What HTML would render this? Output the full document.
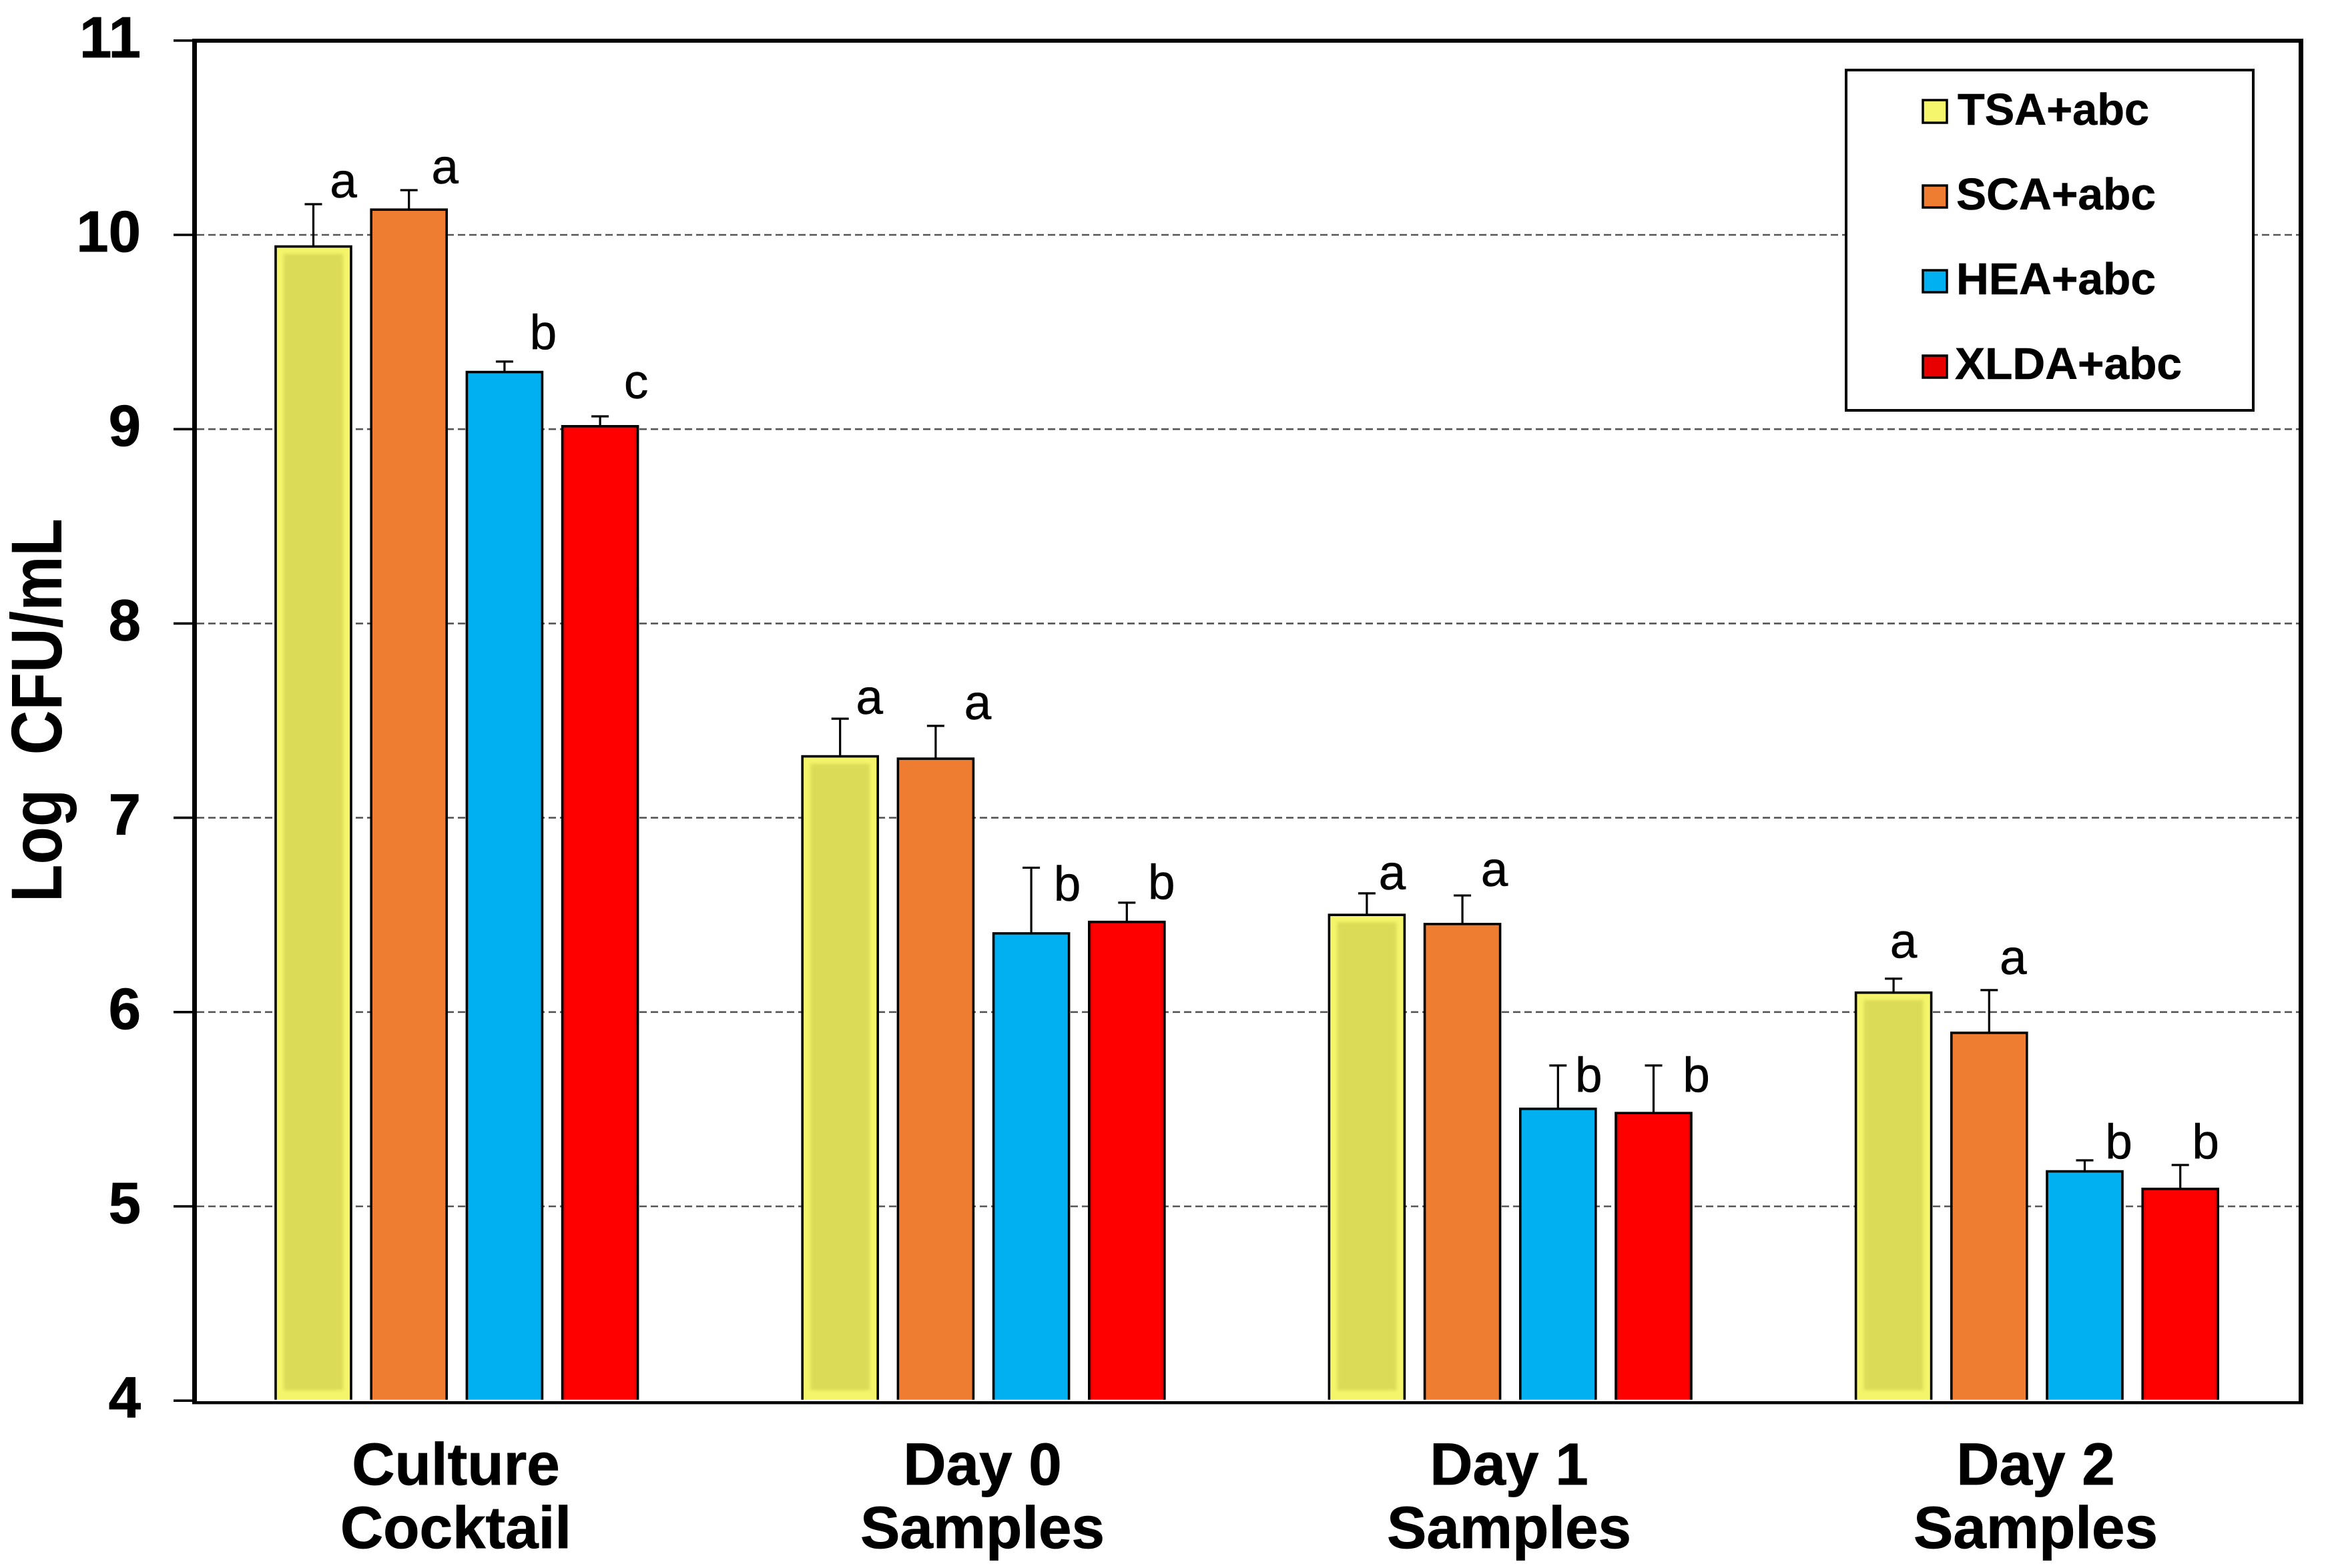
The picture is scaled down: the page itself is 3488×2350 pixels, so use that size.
<!DOCTYPE html>
<html lang="en">
<head>
<meta charset="utf-8">
<title>Log CFU/mL by sample and medium</title>
<style>
  html, body { margin: 0; padding: 0; background: #fff; }
  svg { display: block; font-family: "Liberation Sans", sans-serif; }
  .tick-label { font-size: 87px; font-weight: 700; text-anchor: end; fill: #000; stroke: #000; stroke-width: 0.8px; }
  .cat-label { font-size: 89px; font-weight: 700; text-anchor: middle; fill: #000; stroke: #000; stroke-width: 0.8px; }
  .sig { font-size: 73px; text-anchor: middle; fill: #000; stroke: #000; stroke-width: 0.5px; }
  .legend-text { font-size: 67px; font-weight: 700; fill: #000; stroke: #000; stroke-width: 0.6px; }
</style>
</head>
<body>
<svg id="chart" xmlns="http://www.w3.org/2000/svg" width="3488" height="2350" viewBox="0 0 3488 2350">
  <defs>
    <linearGradient id="red-fill" x1="0" x2="1" y1="0" y2="0">
      <stop offset="0" stop-color="#c40000"/>
      <stop offset="0.05" stop-color="#ff0000"/>
      <stop offset="0.95" stop-color="#ff0000"/>
      <stop offset="1" stop-color="#c40000"/>
    </linearGradient>
    <filter id="soft" x="-10%" y="-10%" width="120%" height="120%">
      <feGaussianBlur stdDeviation="2.5"/>
    </filter>
  </defs>
  <rect x="0" y="0" width="3488" height="2350" fill="#fff"/>
  <g id="grid"></g>
  <g id="bars"></g>
  <g id="axes"></g>
  <text transform="translate(92,1352) rotate(-90)" font-size="108" font-weight="700" fill="#000" textLength="575" lengthAdjust="spacingAndGlyphs" xml:space="preserve">Log  CFU/mL</text>

  <g id="letters">
    <text class="sig" data-g="0" data-s="0" dx="45" dy="-10">a</text>
    <text class="sig" data-g="0" data-s="1" dx="54" dy="-10">a</text>
    <text class="sig" data-g="0" data-s="2" dx="58" dy="-19">b</text>
    <text class="sig" data-g="0" data-s="3" dx="54" dy="-27">c</text>
    <text class="sig" data-g="1" data-s="0" dx="44" dy="-7">a</text>
    <text class="sig" data-g="1" data-s="1" dx="63" dy="-10">a</text>
    <text class="sig" data-g="1" data-s="2" dx="54" dy="49">b</text>
    <text class="sig" data-g="1" data-s="3" dx="52" dy="-6">b</text>
    <text class="sig" data-g="2" data-s="0" dx="38" dy="-6">a</text>
    <text class="sig" data-g="2" data-s="1" dx="48" dy="-14">a</text>
    <text class="sig" data-g="2" data-s="2" dx="46" dy="39">b</text>
    <text class="sig" data-g="2" data-s="3" dx="64" dy="39">b</text>
    <text class="sig" data-g="3" data-s="0" dx="15" dy="-31">a</text>
    <text class="sig" data-g="3" data-s="1" dx="36" dy="-24">a</text>
    <text class="sig" data-g="3" data-s="2" dx="51" dy="-3">b</text>
    <text class="sig" data-g="3" data-s="3" dx="38" dy="-10">b</text>
  </g>

  <g>
    <rect x="2766" y="105" width="610" height="510" fill="#fff" stroke="#000" stroke-width="4"/>
    <g>
      <rect x="2881" y="150" width="36" height="34" fill="#f6f66c" stroke="#000" stroke-width="3.5"/>
      <text class="legend-text" x="2933" y="187" textLength="287" lengthAdjust="spacingAndGlyphs">TSA+abc</text>
    </g>
    <g>
      <rect x="2881" y="278" width="36" height="33" fill="#ee7d31" stroke="#000" stroke-width="3.5"/>
      <text class="legend-text" x="2931" y="314" textLength="299" lengthAdjust="spacingAndGlyphs">SCA+abc</text>
    </g>
    <g>
      <rect x="2881" y="405" width="36" height="33" fill="#00b0f0" stroke="#000" stroke-width="3.5"/>
      <text class="legend-text" x="2931" y="441" textLength="299" lengthAdjust="spacingAndGlyphs">HEA+abc</text>
    </g>
    <g>
      <rect x="2881" y="533" width="36" height="33" fill="#e80000" stroke="#000" stroke-width="3.5"/>
      <text class="legend-text" x="2929" y="568" textLength="340" lengthAdjust="spacingAndGlyphs">XLDA+abc</text>
    </g>
  </g>
</svg>
<script>
const categoryLine1 = ["Culture", "Day 0", "Day 1", "Day 2"];
const categoryLine2 = ["Cocktail", "Samples", "Samples", "Samples"];
const seriesNames = ["tsa", "sca", "hea", "xlda"];
const yTicks = [4, 5, 6, 7, 8, 9, 10, 11];
const gridValues = [5, 6, 7, 8, 9, 10];

const tsaValues = [9.94, 7.316, 6.50, 6.10];
const scaValues = [10.13, 7.304, 6.453, 5.893];
const heaValues = [9.294, 6.405, 5.502, 5.18];
const xldaValues = [9.015, 6.464, 5.48, 5.09];

const tsaUpper = [10.158, 7.51, 6.611, 6.172];
const scaUpper = [10.23, 7.473, 6.60, 6.113];
const heaUpper = [9.348, 6.743, 5.725, 5.237];
const xldaUpper = [9.066, 6.563, 5.725, 5.213];

const NS = "http://www.w3.org/2000/svg";
const seriesValues = [tsaValues, scaValues, heaValues, xldaValues];
const seriesUpper = [tsaUpper, scaUpper, heaUpper, xldaUpper];
const seriesFill = ["#f5f56b", "#ee7d31", "#00b0f0", "url(#red-fill)"];

function yScale(v) { return 60.8 + 291.2 * (11 - v); }
function barCenter(g, s) { return 469.5 + 789.2 * g + 143.2 * s; }
function groupCenter(g) { return 684 + 789 * g; }

function make(tag, attrs, parent) {
  const n = document.createElementNS(NS, tag);
  for (const k in attrs) n.setAttribute(k, attrs[k]);
  parent.appendChild(n);
  return n;
}

const gridG = document.getElementById("grid");
gridValues.forEach(function (v) {
  const line = make("line", { x1: 295, x2: 3444, y1: yScale(v), y2: yScale(v), stroke: "#555", "stroke-width": 2.6, "stroke-dasharray": "11 6" }, gridG);
  
  
});

const barsG = document.getElementById("bars");
const barWidth = 113;
const barBase = yScale(4) - 1.5;
seriesValues.forEach(function (values, s) {
  values.forEach(function (v, g) {
    const cx = barCenter(g, s);
    const x0 = cx - barWidth / 2;
    const x1 = cx + barWidth / 2;
    const top = yScale(v);
    const upper = yScale(seriesUpper[s][g]);

    const whisker = make("path", { d: "M" + cx + " " + top + "V" + upper + "M" + (cx - 13) + " " + upper + "H" + (cx + 13), fill: "none", stroke: "#000", "stroke-width": 3.2 }, barsG);
    
    

    const bar = make("path", { d: "M" + x0 + " " + barBase + "V" + top + "H" + x1 + "V" + barBase, fill: seriesFill[s], stroke: "#000", "stroke-width": 3.6 }, barsG);
    
    

    if (s === 0) {
      const inner = make("rect", { x: x0 + 12, y: top + 11, width: barWidth - 24, height: barBase - top - 25, fill: "#dcdb58", filter: "url(#soft)" }, barsG);
      
      
    }
  });
});

const axesG = document.getElementById("axes");
const frames = [
  { d: "M288 61H3451", w: 6, n: "axis-top" },
  { d: "M291.5 58V2104", w: 7, n: "axis-left" },
  { d: "M3447.5 58V2104", w: 7, n: "axis-right" },
  { d: "M288 2102.2H3451", w: 4.5, n: "axis-bottom" }
];
frames.forEach(function (f) {
  const p = make("path", { d: f.d, fill: "none", stroke: "#000", "stroke-width": f.w }, axesG);
  
  
});

yTicks.forEach(function (v) {
  const t = make("line", { x1: 260, x2: 290, y1: yScale(v), y2: yScale(v), stroke: "#000", "stroke-width": 3.6 }, axesG);
  
  
  const lab = make("text", { x: 211, y: yScale(v) + 25, class: "tick-label" }, axesG);
  lab.textContent = String(v);
  
  
});

categoryLine1.forEach(function (c, g) {
  const a = make("text", { x: groupCenter(g) - 1, y: 2225, class: "cat-label" }, axesG);
  a.textContent = c;
  
  
  const b = make("text", { x: groupCenter(g) - 1, y: 2320, class: "cat-label" }, axesG);
  b.textContent = categoryLine2[g];
  
  
});

document.querySelectorAll("#letters .sig").forEach(function (t) {
  const g = +t.getAttribute("data-g");
  const s = +t.getAttribute("data-s");
  t.setAttribute("x", barCenter(g, s));
  t.setAttribute("y", yScale(seriesUpper[s][g]));
});
</script>
</body>
</html>
